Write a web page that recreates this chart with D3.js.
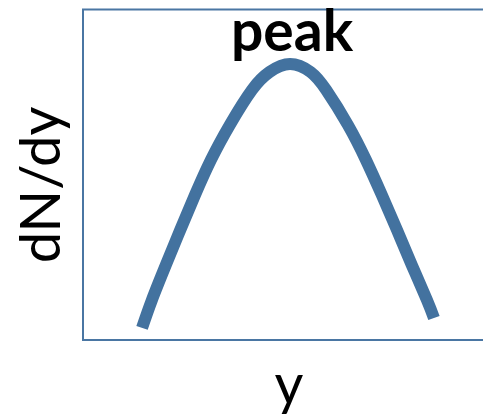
<!DOCTYPE html>
<html>
<head>
<meta charset="utf-8">
<script src="https://cdn.jsdelivr.net/npm/d3@7"></script>
<style>
  body { margin: 0; background: #fff; }
  svg { display: block; }
</style>
</head>
<body>
<svg id="chart" width="483" height="420"></svg>
<script>
// curve: rapidity vs dN/dy (arbitrary units)
var rapidity = [-3.56, -3.32, -2.98, -2.63, -2.27, -1.88, -1.42, -0.88, -0.45, 0.05, 0.55, 0.93, 1.46, 1.90, 2.29, 2.66, 3.02, 3.39, 3.56];
var dndy     = [0.044, 0.145, 0.272, 0.399, 0.526, 0.654, 0.781, 0.908, 0.973, 1.002, 0.973, 0.908, 0.781, 0.654, 0.526, 0.399, 0.272, 0.145, 0.080];

var x_domain = [-5, 5];
var y_domain = [0, 1.2];

var x_label = 'y';
var y_label = 'dN/dy';
var note = 'peak';

var blue = '#43729f';
var font = 'Lato, "Open Sans", sans-serif';

var svg = d3.select('#chart');

var box = {left: 83, right: 493, top: 9.5, bottom: 340};

var x = d3.scaleLinear().domain(x_domain).range([box.left, box.right]);
var y = d3.scaleLinear().domain(y_domain).range([box.bottom, box.top]);

var data = rapidity.map((r, i) => {return {'y' : r, 'n' : dndy[i]}});

// frame
svg.append('rect')
   .attr('x', box.left)
   .attr('y', box.top)
   .attr('width', box.right - box.left)
   .attr('height', box.bottom - box.top)
   .attr('fill', 'none')
   .attr('stroke', '#4a76a3')
   .attr('stroke-width', 2);

var line = d3.line()
             .x(d => x(d.y))
             .y(d => y(d.n))
             .curve(d3.curveNatural);

svg.append('path')
   .datum(data)
   .attr('d', line)
   .attr('fill', 'none')
   .attr('stroke', blue)
   .attr('stroke-width', 12)
   .attr('stroke-linecap', 'butt');

svg.append('text')
   .text(note)
   .attr('x', 292)
   .attr('y', 51)
   .attr('text-anchor', 'middle')
   .attr('font-family', font)
   .attr('font-weight', 'bold')
   .attr('font-size', 57)
   .attr('fill', '#000');

svg.append('text')
   .text(x_label)
   .attr('x', 289)
   .attr('y', 404)
   .attr('text-anchor', 'middle')
   .attr('font-family', font)
   .attr('font-size', 56)
   .attr('fill', '#000');

svg.append('text')
   .text(y_label)
   .attr('transform', 'translate(60,185) rotate(-90)')
   .attr('text-anchor', 'middle')
   .attr('font-family', font)
   .attr('font-size', 56)
   .attr('fill', '#000');
</script>
</body>
</html>
